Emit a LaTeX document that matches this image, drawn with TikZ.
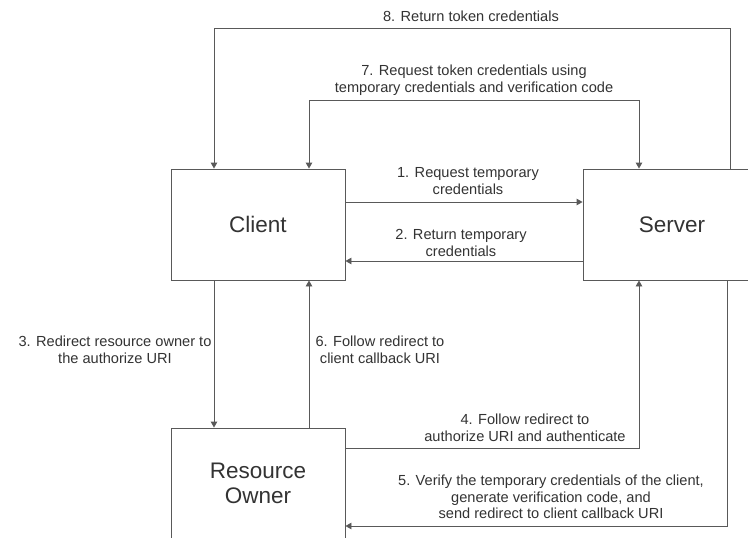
\documentclass[tikz,border=0pt]{standalone}
\usepackage{fontspec}
\setmainfont{Liberation Sans}
\usetikzlibrary{arrows.meta}
\definecolor{linegray}{HTML}{595959}
\definecolor{textgray}{HTML}{333333}
\begin{document}
\begin{tikzpicture}[x=1pt,y=-1pt,
  party/.style={draw=linegray, line width=0.9pt, fill=white,
    minimum width=174pt, minimum height=111pt, inner sep=0pt,
    font=\fontsize{22.5}{25}\selectfont, text=textgray, align=center},
  flow/.style={draw=linegray, line width=0.9pt,
    -{Triangle[length=6pt,width=6.5pt]}},
  twoway/.style={flow, {Triangle[length=6pt,width=6.5pt]}-{Triangle[length=6pt,width=6.5pt]}},
  lbl/.style={font=\fontsize{14.6}{16.5}\selectfont, text=textgray,
    align=center, inner sep=0pt}]
\useasboundingbox (0,0) rectangle (748,538);
\clip (0,0) rectangle (748,538);
\fill[white] (0,0) rectangle (748,538);

% the three parties
\node[party] (client) at (258,224.5) {Client};
\node[party, minimum width=178pt] (server) at (672,224.5) {Server};
\node[party] (owner) at (258,483.5) {Resource\\Owner};

% lanes used by the connectors
\coordinate (y8) at (0,28);
\coordinate (y7) at (0,100);
\coordinate (y1) at (0,202);
\coordinate (y2) at (0,261);
\coordinate (y4) at (0,448);
\coordinate (y5) at (0,526);
\coordinate (xa) at (214,0);
\coordinate (xb) at (309,0);
\coordinate (xc) at (639,0);
\coordinate (xd) at (730,0);
\coordinate (xe) at (727,0);

% message flows
\draw[flow] (client.east |- y1) -- (server.west |- y1);
\draw[flow] (server.west |- y2) -- (client.east |- y2);
\draw[flow] (client.south -| xa) -- (owner.north -| xa);
\draw[flow] (owner.east |- y4) -| (server.south -| xc);
\draw[flow] (server.south -| xe) |- (owner.east |- y5);
\draw[flow] (owner.north -| xb) -- (client.south -| xb);
\draw[twoway] (client.north -| xb) |- (xc |- y7) -- (server.north -| xc);
\draw[flow] (server.north -| xd) |- (xa |- y8) -- (client.north -| xa);

% step labels
\node[lbl] (l8) at (471,16) {8. Return token credentials};
\node[lbl] (l7) at (474,80) {7. Request token credentials using\\temporary credentials and verification code};
\node[lbl] (l1) at (468,181) {1. Request temporary\\credentials};
\node[lbl] (l2) at (461,243) {2. Return temporary\\credentials};
\node[lbl] (l3) at (115,350) {3. Redirect resource owner to\\the authorize URI};
\node[lbl] (l6) at (380,350) {6. Follow redirect to\\client callback URI};
\node[lbl] (l4) at (525,428) {4. Follow redirect to\\authorize URI and authenticate};
\node[lbl] (l5) at (551,497) {5. Verify the temporary credentials of the client,\\generate verification code, and\\send redirect to client callback URI};
\end{tikzpicture}
\end{document}
